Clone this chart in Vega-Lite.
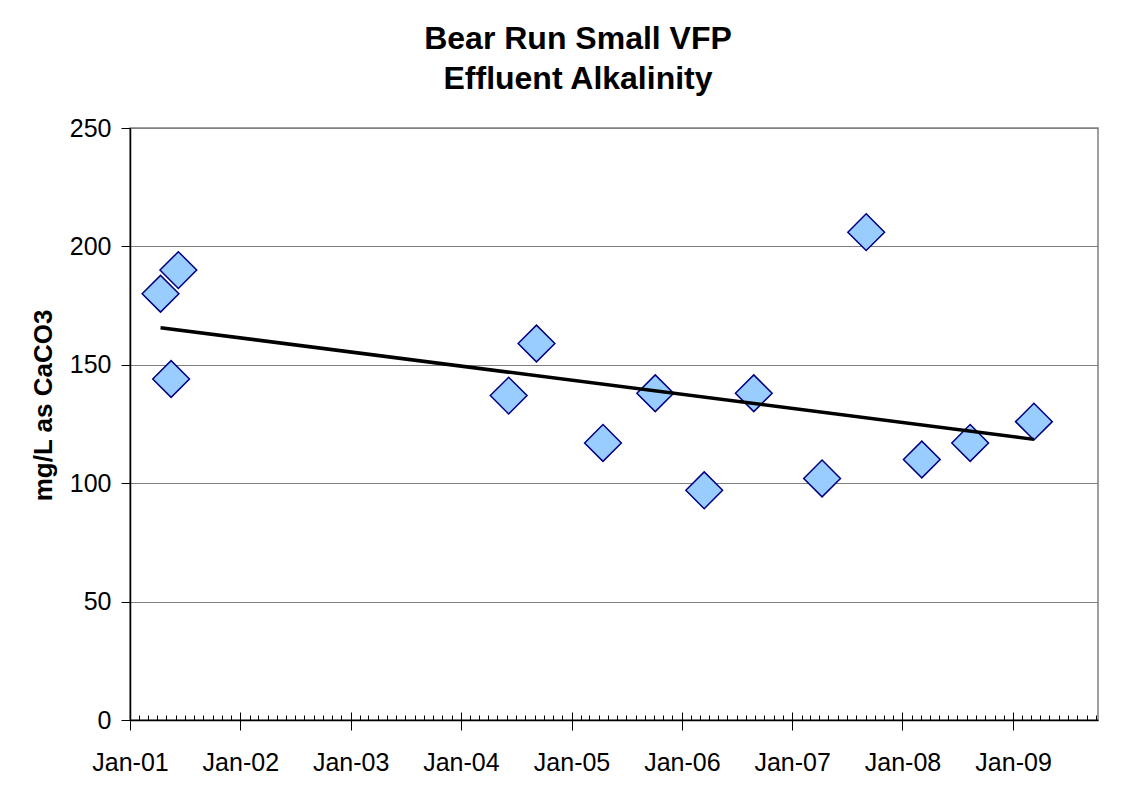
{
  "$schema": "https://vega.github.io/schema/vega-lite/v6.json",
  "width": 968,
  "height": 592,
  "autosize": {"type": "none"},
  "padding": {"left": 130, "top": 128, "right": 32, "bottom": 78},
  "background": "white",
  "config": {
    "font": "Liberation Sans",
    "view": {"stroke": "#808080", "strokeWidth": 1.5}
  },
  "title": {
    "text": ["Bear Run Small VFP", "Effluent Alkalinity"],
    "font": "Liberation Sans",
    "fontSize": 32,
    "fontWeight": "bold",
    "color": "black",
    "anchor": "middle",
    "frame": "group",
    "dx": -36,
    "baseline": "alphabetic",
    "lineHeight": 40,
    "offset": -5
  },
  "data": {
    "values": [
      {"date": "2001-04-12", "value": 180},
      {"date": "2001-05-17", "value": 144},
      {"date": "2001-06-10", "value": 190},
      {"date": "2004-06-07", "value": 137},
      {"date": "2004-09-07", "value": 159},
      {"date": "2005-04-15", "value": 117},
      {"date": "2005-10-05", "value": 138},
      {"date": "2006-03-16", "value": 97},
      {"date": "2006-08-27", "value": 138},
      {"date": "2007-04-10", "value": 102},
      {"date": "2007-09-03", "value": 206},
      {"date": "2008-03-05", "value": 110},
      {"date": "2008-08-12", "value": 117},
      {"date": "2009-03-11", "value": 126}
    ],
    "format": {"parse": {"date": "date"}}
  },
  "layer": [
    {
      "mark": {"type": "point", "shape": "diamond", "filled": true, "fill": "#99CCFF", "stroke": "#000080", "strokeWidth": 1.5, "size": 1350, "opacity": 1},
      "encoding": {
        "x": {
          "field": "date", "type": "temporal",
          "scale": {"domain": [{"year": 2001, "month": 1, "date": 1}, {"year": 2009, "month": 10, "date": 9}]},
          "axis": {
            "orient": "bottom", "title": null, "format": "%b-%y",
            "tickCount": {"interval": "year", "step": 1},
            "grid": false, "domain": false, "offset": -8,
            "tickSize": 18, "tickColor": "black", "tickWidth": 1,
            "labelFontSize": 25, "labelColor": "black", "labelPadding": 20,
            "labelFlush": false, "labelOverlap": false
          }
        },
        "y": {
          "field": "value", "type": "quantitative",
          "scale": {"domain": [0, 250], "nice": false, "zero": true},
          "axis": {
            "values": [0, 50, 100, 150, 200, 250],
            "title": "mg/L as CaCO3", "titleFontSize": 26, "titleFontWeight": "bold", "titleColor": "black",
            "titleX": -74, "titleY": 277, "titleAngle": -90, "titleBaseline": "bottom", "titleAlign": "center",
            "grid": true, "gridColor": "#808080", "gridWidth": 1.2,
            "domainColor": "black", "domainWidth": 1.5,
            "tickSize": 9, "tickColor": "black", "tickWidth": 1,
            "labelFontSize": 25, "labelColor": "black", "labelPadding": 10
          }
        }
      }
    },
    {
      "transform": [{"regression": "value", "on": "date", "method": "linear"}],
      "mark": {"type": "line", "color": "black", "strokeWidth": 3.5},
      "encoding": {
        "x": {
          "field": "date", "type": "temporal",
          "axis": {
            "orient": "bottom", "title": null, "labels": false,
            "tickCount": {"interval": "month", "step": 1},
            "grid": false, "domain": true, "domainColor": "black", "domainWidth": 1.5,
            "tickSize": -5, "tickColor": "black", "tickWidth": 1
          }
        },
        "y": {"field": "value", "type": "quantitative", "axis": null}
      }
    }
  ],
  "resolve": {"axis": {"x": "independent", "y": "independent"}}
}
